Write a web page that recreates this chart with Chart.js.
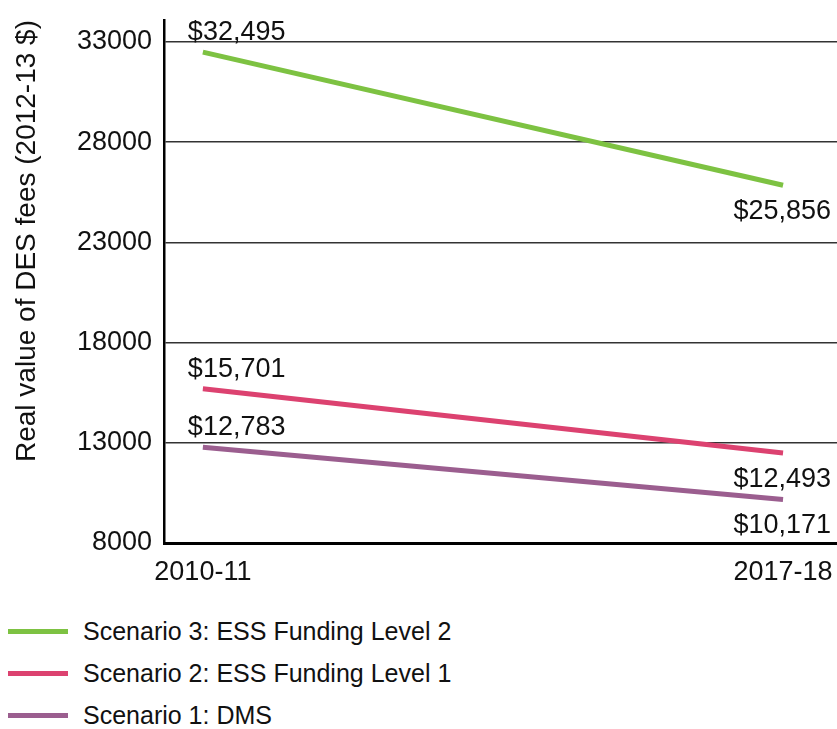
<!DOCTYPE html>
<html>
<head>
<meta charset="utf-8">
<script src="https://cdn.jsdelivr.net/npm/chart.js@4"></script>
<style>
  html, body { margin: 0; padding: 0; background: #fff; }
  #wrap { width: 837px; height: 587px; position: relative; }
  #legend { list-style: none; margin: 0; padding: 0; font-family: 'Liberation Sans', Arial, sans-serif; font-size: 25px; color: #111; }
  #legend li { height: 42px; display: flex; align-items: center; }
  #legend .swatch { display: inline-block; width: 60px; height: 5px; margin: 0 15px 0 8px; }
</style>
</head>
<body>
<div id="wrap"><canvas id="c"></canvas></div>
<ul id="legend" style="margin-top: 23px;"></ul>
<script>
// Data
const years = ['2010-11', '2017-18'];
const seriesNames = ['Scenario 3: ESS Funding Level 2', 'Scenario 2: ESS Funding Level 1', 'Scenario 1: DMS'];
const scenario3 = [32495, 25856];
const scenario2 = [15701, 12493];
const scenario1 = [12783, 10171];
const yTicks = [8000, 13000, 18000, 23000, 28000, 33000];

const seriesColors = ['#7dc242', '#dc4270', '#9b5e8f'];
const FONT = "'Liberation Sans', Arial, sans-serif";

Chart.defaults.font.family = FONT;
Chart.defaults.color = '#111';

// Value labels: first point above-left, last point below-right
const valueLabels = {
  id: 'valueLabels',
  afterDatasetsDraw(chart) {
    const ctx = chart.ctx;
    ctx.save();
    ctx.font = '27px ' + FONT;
    ctx.fillStyle = '#111';
    chart.data.datasets.forEach((ds, i) => {
      const pts = chart.getDatasetMeta(i).data;
      const first = pts[0], last = pts[pts.length - 1];
      ctx.textAlign = 'left';
      ctx.textBaseline = 'alphabetic';
      ctx.fillText('$' + ds.data[0].y.toLocaleString('en-US'), first.x - 15, first.y - 12);
      ctx.textAlign = 'right';
      ctx.fillText('$' + ds.data[pts.length - 1].y.toLocaleString('en-US'), last.x + 48, last.y + 34);
    });
    ctx.restore();
  }
};

// HTML legend, one series per row
const htmlLegend = {
  id: 'htmlLegend',
  afterUpdate(chart) {
    const ul = document.getElementById('legend');
    ul.innerHTML = '';
    chart.data.datasets.forEach(ds => {
      const li = document.createElement('li');
      const sw = document.createElement('span');
      sw.className = 'swatch';
      sw.style.background = ds.borderColor;
      li.appendChild(sw);
      li.appendChild(document.createTextNode(ds.label));
      ul.appendChild(li);
    });
  }
};

const toPoints = vals => vals.map((v, i) => ({ x: i, y: v }));

new Chart(document.getElementById('c'), {
  type: 'line',
  data: {
    datasets: [scenario3, scenario2, scenario1].map((vals, i) => ({
      label: seriesNames[i],
      data: toPoints(vals),
      borderColor: seriesColors[i],
      backgroundColor: seriesColors[i],
      borderWidth: 5,
      pointRadius: 0,
      tension: 0,
    }))
  },
  options: {
    responsive: true,
    maintainAspectRatio: false,
    animation: false,
    layout: { padding: { top: 20, right: 0, bottom: 0, left: 0 } },
    plugins: {
      legend: { display: false },
      tooltip: { enabled: false }
    },
    scales: {
      x: {
        type: 'linear',
        min: -0.067,
        max: 1.093,
        grid: { display: false },
        border: { display: true, color: '#000', width: 3 },
        afterBuildTicks: scale => { scale.ticks = years.map((_, i) => ({ value: i })); },
        afterFit: scale => { scale.height = 44; scale.paddingLeft = 0; scale.paddingRight = 0; },
        ticks: {
          padding: 5,
          maxRotation: 0,
          font: { size: 27 },
          color: '#111',
          callback: v => years[v]
        }
      },
      y: {
        min: 8000,
        max: 34100,
        afterBuildTicks: scale => { scale.ticks = yTicks.map(v => ({ value: v })); },
        afterFit: scale => { scale.width = 164; scale.paddingTop = 0; scale.paddingBottom = 0; },
        grid: { color: '#333', lineWidth: 1.5, drawTicks: false },
        border: { display: true, color: '#000', width: 2.5 },
        ticks: {
          padding: 12,
          font: { size: 27 },
          color: '#111',
          callback: v => String(v)
        },
        title: {
          display: true,
          text: 'Real value of DES fees (2012-13 $)',
          align: 'end',
          padding: { top: 10, bottom: 0 },
          font: { size: 28 },
          color: '#111'
        }
      }
    }
  },
  plugins: [valueLabels, htmlLegend]
});
</script>
</body>
</html>
